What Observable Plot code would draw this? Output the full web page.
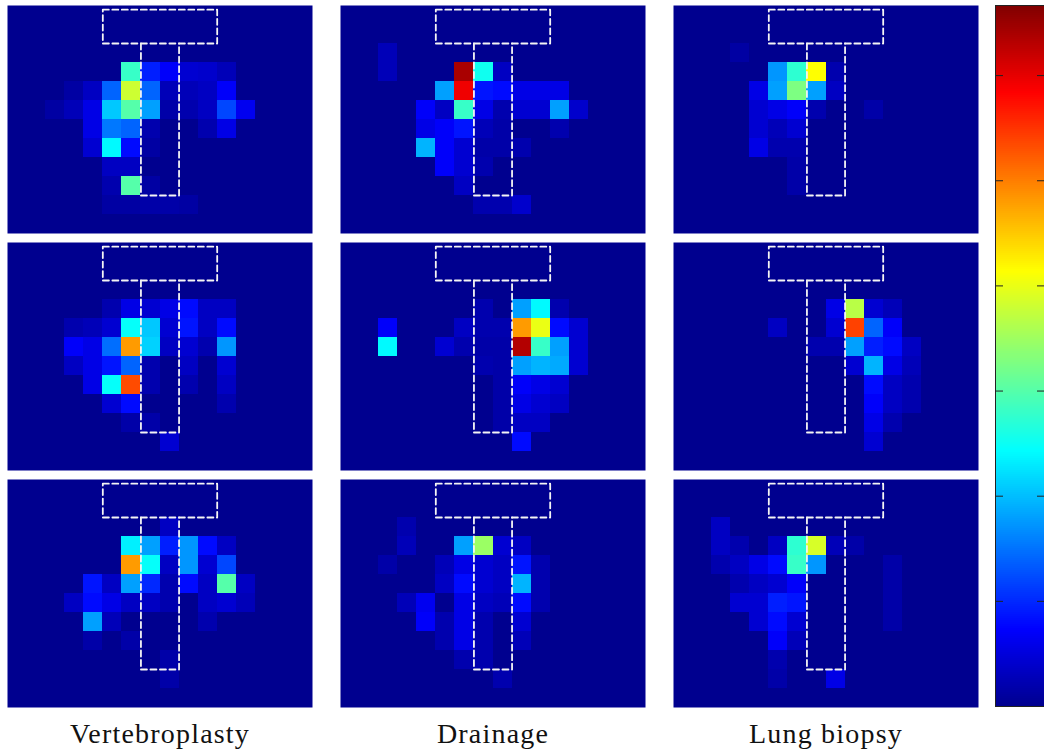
<!DOCTYPE html>
<html>
<head>
<meta charset="utf-8">
<script src="https://cdn.jsdelivr.net/npm/d3@7"></script>
<script src="https://cdn.jsdelivr.net/npm/@observablehq/plot@0.6"></script>
<style>
  html, body { margin: 0; padding: 0; background: #fff; overflow: hidden; }
  #wrap { position: relative; width: 1044px; height: 753px; }
  #wrap > svg { position: absolute; }
</style>
</head>
<body>
<div id="wrap"></div>
<script>
// Procedures (columns) and repeated trials (rows)
const procedures = ["Vertebroplasty", "Drainage", "Lung biopsy"];
const trials = [1, 2, 3];

// Heat-map cells on a 16 x 12 grid: [row, col, intensity 0..1]; unlisted cells are 0
const vertebroplasty1 = [
  [3,6,.42],[3,7,.14],[3,8,.105],[3,9,.065],[3,10,.06],[3,11,.04],
  [4,3,.02],[4,4,.05],[4,5,.21],[4,6,.57],[4,7,.21],[4,8,.04],[4,9,.04],[4,10,.05],[4,11,.105],
  [5,2,.02],[5,3,.04],[5,4,.085],[5,5,.31],[5,6,.45],[5,7,.27],[5,8,.025],[5,9,.03],[5,10,.05],[5,11,.18],[5,12,.095],
  [6,4,.085],[6,5,.23],[6,6,.21],[6,7,.03],[6,10,.03],[6,11,.085],
  [7,4,.065],[7,5,.36],[7,6,.12],[7,7,.02],
  [8,5,.05],[8,6,.05],
  [9,5,.03],[9,6,.45],[9,7,.02],
  [10,5,.02],[10,6,.02],[10,7,.025],[10,8,.025],[10,9,.02]
];
const drainage1 = [
  [2,2,.04],
  [3,2,.04],[3,6,.96],[3,7,.38],[3,8,.05],
  [4,5,.27],[4,6,.89],[4,7,.13],[4,8,.12],[4,9,.085],[4,10,.085],[4,11,.085],
  [5,4,.105],[5,5,.05],[5,6,.42],[5,7,.085],[5,8,.03],[5,9,.065],[5,10,.065],[5,11,.27],[5,12,.06],
  [6,4,.085],[6,5,.105],[6,6,.13],[6,7,.04],[6,8,.025],[6,11,.03],
  [7,4,.29],[7,5,.105],[7,6,.065],[7,7,.025],[7,8,.025],[7,9,.03],
  [8,5,.105],[8,6,.065],[8,7,.03],
  [9,6,.05],
  [10,7,.03],[10,8,.03],[10,9,.06]
];
const lungBiopsy1 = [
  [2,3,.02],
  [3,5,.26],[3,6,.41],[3,7,.62],[3,8,.03],
  [4,4,.085],[4,5,.27],[4,6,.49],[4,7,.27],[4,8,.05],
  [5,4,.065],[5,5,.085],[5,6,.105],[5,7,.03],[5,10,.025],
  [6,4,.065],[6,5,.04],[6,6,.065],
  [7,4,.085],[7,5,.03],[7,6,.03],
  [8,6,.025],
  [9,6,.025]
];
const vertebroplasty2 = [
  [3,5,.03],[3,6,.085],[3,7,.065],[3,8,.085],[3,9,.12],[3,10,.05],[3,11,.05],
  [4,3,.03],[4,4,.04],[4,5,.065],[4,6,.37],[4,7,.31],[4,8,.065],[4,9,.13],[4,10,.05],[4,11,.12],
  [5,3,.105],[5,4,.085],[5,5,.22],[5,6,.72],[5,7,.32],[5,8,.05],[5,9,.065],[5,10,.03],[5,11,.26],
  [6,3,.05],[6,4,.085],[6,5,.13],[6,6,.21],[6,7,.03],[6,9,.05],[6,11,.065],
  [7,4,.085],[7,5,.37],[7,6,.80],[7,7,.03],[7,9,.03],[7,11,.05],
  [8,5,.065],[8,6,.12],[8,11,.03],
  [9,6,.025],[9,7,.025],
  [10,8,.065]
];
const drainage2 = [
  [3,7,.03],[3,9,.27],[3,10,.36],[3,11,.03],
  [4,2,.105],[4,6,.05],[4,7,.03],[4,8,.03],[4,9,.72],[4,10,.60],[4,11,.12],[4,12,.065],
  [5,2,.36],[5,5,.065],[5,6,.03],[5,7,.025],[5,8,.025],[5,9,.95],[5,10,.42],[5,11,.27],[5,12,.065],
  [6,7,.03],[6,8,.025],[6,9,.27],[6,10,.29],[6,11,.28],[6,12,.065],
  [7,8,.025],[7,9,.105],[7,10,.085],[7,11,.065],
  [8,8,.025],[8,9,.085],[8,10,.065],[8,11,.05],
  [9,8,.025],[9,9,.05],[9,10,.05],
  [10,9,.12]
];
const lungBiopsy2 = [
  [3,8,.085],[3,9,.55],[3,10,.065],[3,11,.04],
  [4,5,.05],[4,8,.065],[4,9,.81],[4,10,.21],[4,11,.105],
  [5,7,.03],[5,8,.03],[5,9,.27],[5,10,.14],[5,11,.12],[5,12,.05],
  [6,9,.065],[6,10,.29],[6,11,.085],[6,12,.04],
  [7,10,.12],[7,11,.05],[7,12,.03],
  [8,10,.105],[8,11,.05],[8,12,.03],
  [9,10,.085],[9,11,.03],
  [10,10,.065]
];
const vertebroplasty3 = [
  [2,8,.05],
  [3,6,.35],[3,7,.27],[3,8,.14],[3,9,.26],[3,10,.12],[3,11,.05],
  [4,6,.72],[4,7,.37],[4,8,.05],[4,9,.26],[4,10,.065],[4,11,.18],
  [5,4,.13],[5,5,.05],[5,6,.27],[5,7,.15],[5,8,.03],[5,9,.12],[5,10,.05],[5,11,.45],[5,12,.05],
  [6,3,.05],[6,4,.12],[6,5,.085],[6,6,.05],[6,7,.05],[6,8,.03],[6,10,.05],[6,11,.065],[6,12,.04],
  [7,4,.27],[7,5,.04],[7,10,.03],
  [8,4,.025],[8,6,.025],
  [9,8,.025],
  [10,8,.025]
];
const drainage3 = [
  [2,3,.03],
  [3,3,.04],[3,6,.27],[3,7,.52],[3,8,.065],[3,9,.05],
  [4,2,.025],[4,5,.04],[4,6,.085],[4,7,.065],[4,8,.05],[4,9,.13],[4,10,.03],
  [5,5,.05],[5,6,.12],[5,7,.065],[5,8,.05],[5,9,.29],[5,10,.03],
  [6,3,.04],[6,4,.095],[6,6,.085],[6,7,.05],[6,8,.04],[6,9,.12],[6,10,.03],
  [7,4,.105],[7,5,.03],[7,6,.085],[7,7,.03],[7,9,.065],
  [8,5,.03],[8,6,.085],[8,7,.03],[8,9,.04],
  [9,6,.03],[9,7,.03],
  [10,8,.03]
];
const lungBiopsy3 = [
  [2,2,.05],
  [3,2,.05],[3,3,.03],[3,5,.05],[3,6,.41],[3,7,.58],[3,8,.04],[3,9,.025],
  [4,2,.03],[4,3,.05],[4,4,.085],[4,5,.12],[4,6,.42],[4,7,.26],[4,11,.025],
  [5,3,.03],[5,4,.05],[5,5,.065],[5,6,.105],[5,11,.025],
  [6,3,.065],[6,4,.065],[6,5,.14],[6,6,.13],[6,11,.025],
  [7,4,.065],[7,5,.12],[7,6,.065],[7,11,.025],
  [8,5,.105],[8,6,.04],
  [9,5,.03],
  [10,5,.025],[10,8,.085]
];

const panels = [
  {procedure: "Vertebroplasty", trial: 1, cells: vertebroplasty1},
  {procedure: "Drainage",       trial: 1, cells: drainage1},
  {procedure: "Lung biopsy",    trial: 1, cells: lungBiopsy1},
  {procedure: "Vertebroplasty", trial: 2, cells: vertebroplasty2},
  {procedure: "Drainage",       trial: 2, cells: drainage2},
  {procedure: "Lung biopsy",    trial: 2, cells: lungBiopsy2},
  {procedure: "Vertebroplasty", trial: 3, cells: vertebroplasty3},
  {procedure: "Drainage",       trial: 3, cells: drainage3},
  {procedure: "Lung biopsy",    trial: 3, cells: lungBiopsy3}
];

// T-shaped device outline in grid units (cross bar + stem)
const deviceOutline = [
  {part: "bar", x: 5, y: 0.22}, {part: "bar", x: 11, y: 0.22}, {part: "bar", x: 11, y: 2},
  {part: "bar", x: 5, y: 2}, {part: "bar", x: 5, y: 0.22},
  {part: "stem", x: 7, y: 2}, {part: "stem", x: 7, y: 10}, {part: "stem", x: 9, y: 10}, {part: "stem", x: 9, y: 2}
];

// Jet colour map stops
const jetStops = [0, 0.11, 0.365, 0.62, 0.875, 1];
const jetColors = ["#00008f", "#0000ff", "#00ffff", "#ffff00", "#ff0000", "#800000"];
const colorbarTicks = [0.15, 0.30, 0.45, 0.60, 0.75, 0.90];

const cells = panels.flatMap(p =>
  p.cells.map(([row, col, v]) => ({procedure: p.procedure, trial: p.trial, row, col, v}))
);

const colorScale = {type: "linear", domain: jetStops, range: jetColors, interpolate: "rgb", clamp: true};

const heat = Plot.plot({
  width: 1044,
  height: 753,
  marginLeft: 6,
  marginRight: 66,
  marginTop: 5,
  marginBottom: 45.5,
  fx: {domain: procedures, paddingInner: 0.0855, paddingOuter: 0, axis: "bottom", tickSize: 0, tickPadding: 16, label: null},
  fy: {domain: trials, paddingInner: 0.0359, paddingOuter: 0, axis: null},
  x: {domain: [0, 16], axis: null},
  y: {domain: [0, 12], reverse: true, axis: null},
  color: colorScale,
  style: {fontFamily: "'Liberation Serif', serif", fontSize: "28px", color: "#111", background: "transparent", letterSpacing: "1.2px"},
  marks: [
    Plot.frame({fill: jetColors[0]}),
    Plot.rect(cells, {
      fx: "procedure", fy: "trial",
      x1: "col", x2: d => d.col + 1,
      y1: "row", y2: d => d.row + 1,
      fill: "v", shapeRendering: "crispEdges"
    }),
    Plot.line(deviceOutline, {x: "x", y: "y", z: "part", stroke: "#f4f4f4", strokeWidth: 1.8, strokeDasharray: "6,3.5"})
  ]
});
heat.style.left = "0px";
heat.style.top = "0px";

// Vertical colour bar
const rampSteps = d3.range(0, 1, 1 / 350);
const colorbar = Plot.plot({
  width: 52,
  height: 753,
  marginLeft: 1,
  marginRight: 1,
  marginTop: 5,
  marginBottom: 47,
  x: {domain: [0, 1], axis: null},
  y: {domain: [0, 1], axis: null},
  color: colorScale,
  style: {background: "transparent"},
  marks: [
    Plot.rect(rampSteps, {x1: 0, x2: 1, y1: d => d, y2: d => d + 1 / 350, fill: d => d + 0.5 / 350, shapeRendering: "crispEdges"}),
    Plot.ruleY(colorbarTicks, {y: d => d, x1: 0, x2: 0.16, stroke: "#222", strokeWidth: 1}),
    Plot.ruleY(colorbarTicks, {y: d => d, x1: 0.84, x2: 1, stroke: "#222", strokeWidth: 1}),
    Plot.frame({stroke: "#222", strokeWidth: 1})
  ]
});
colorbar.style.left = "994px";
colorbar.style.top = "0px";

const wrap = document.getElementById("wrap");
wrap.appendChild(heat);
wrap.appendChild(colorbar);
</script>
</body>
</html>
